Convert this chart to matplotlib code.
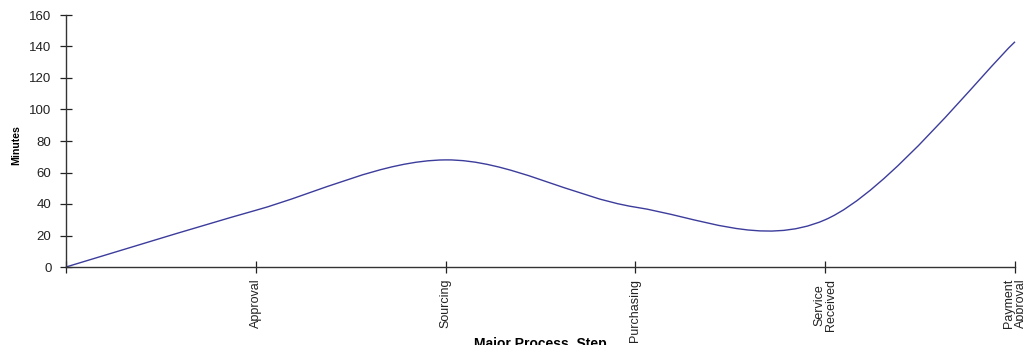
import matplotlib
matplotlib.use('Agg')
import matplotlib.pyplot as plt
from matplotlib.path import Path
from matplotlib.patches import PathPatch

plt.rcParams['font.family'] = ['Liberation Sans', 'DejaVu Sans']

steps = ['', 'Approval', 'Sourcing', 'Purchasing', 'Service\nReceived', 'Payment\nApproval']
minutes = [0, 36, 68, 38, 30, 143]


def smooth_path(xs, ys):
    # Excel-style smoothed line: cubic bezier, control points at 1/6 of neighbour slope
    n = len(xs)
    verts = [(xs[0], ys[0])]
    codes = [Path.MOVETO]
    for i in range(n - 1):
        x0, y0 = xs[max(i - 1, 0)], ys[max(i - 1, 0)]
        x1, y1 = xs[i], ys[i]
        x2, y2 = xs[i + 1], ys[i + 1]
        x3, y3 = xs[min(i + 2, n - 1)], ys[min(i + 2, n - 1)]
        verts += [(x1 + (x2 - x0) / 6, y1 + (y2 - y0) / 6),
                  (x2 - (x3 - x1) / 6, y2 - (y3 - y1) / 6),
                  (x2, y2)]
        codes += [Path.CURVE4] * 3
    return Path(verts, codes)


fig = plt.figure(figsize=(10.23, 3.45), dpi=100)
ax = fig.add_axes([66 / 1023, 78 / 345, 949 / 1023, 252 / 345])

pos = list(range(len(steps)))
ax.add_patch(PathPatch(smooth_path(pos, minutes), facecolor='none',
                       edgecolor='#3c3c9c', lw=1.0, clip_on=False))

ax.set_xlim(0, 5)
ax.set_ylim(0, 160)
ax.set_yticks(range(0, 161, 20))
ax.set_xticks(pos)
ax.set_xticklabels(steps, rotation=90, fontsize=9, color='#222222',
                   linespacing=1.0, va='top')

for s in ['top', 'right']:
    ax.spines[s].set_visible(False)
for s in ['left', 'bottom']:
    ax.spines[s].set_color('#333333')
    ax.spines[s].set_linewidth(1.0)

ax.tick_params(axis='both', direction='inout', length=9, width=0.9, color='#222222')
ax.tick_params(axis='y', labelsize=9.5, labelcolor='#222222', pad=6)
ax.tick_params(axis='x', pad=4)

ax.set_xlabel('Major Process  Step', fontsize=10, fontweight='bold')
ax.xaxis.set_label_coords(0.5, -0.278)
fig.text(11 / 1023, 1 - 145 / 345, 'Minutes', rotation=90, fontsize=7.6,
         fontweight='bold', ha='left', va='center')

fig.savefig('out.png', dpi=100)
